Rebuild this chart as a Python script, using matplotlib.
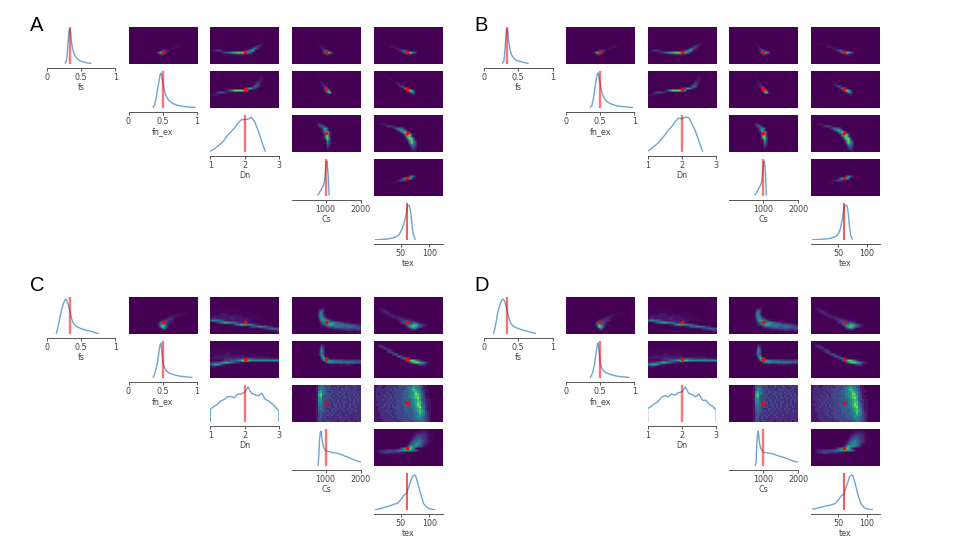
import numpy as np
import matplotlib
matplotlib.use("Agg")
import matplotlib.pyplot as plt
from matplotlib.colors import PowerNorm

names = ["fs", "fn_ex", "Dn", "Cs", "tex"]
truth = [0.333, 0.5, 2.0, 1000.0, 60.0]
limits = [(0, 1), (0, 1), (1, 3), (50, 2000), (2.5, 123.5)]
ticks = [[0, 0.5, 1], [0, 0.5, 1], [1, 2, 3], [1000, 2000], [50, 100]]
tick_labels = [["0", "0.5", "1"], ["0", "0.5", "1"], ["1", "2", "3"], ["1000", "2000"], ["50", "100"]]

# histograms (height relative to the peak)
fs_x_ab = [.27, .29, .30, .31, .32, .33, .34, .35, .36, .38, .40, .43, .47, .52, .58, .64]
fs_y_a = [.02, .10, .30, .60, .85, .97, 1, .85, .65, .42, .28, .18, .10, .06, .03, .01]
fs_y_b = [.02, .08, .27, .55, .82, .98, 1, .88, .66, .40, .26, .17, .10, .07, .04, .01]
fn_x_ab = [.36, .38, .40, .42, .44, .46, .47, .48, .50, .52, .54, .57, .60, .65, .72, .80, .90, .97]
fn_y_a = [.02, .08, .25, .48, .72, .95, 1, .95, .75, .52, .38, .26, .19, .12, .07, .04, .02, .01]
fn_y_b = [.02, .07, .23, .50, .76, .97, 1, .93, .72, .50, .36, .25, .18, .12, .07, .04, .02, .01]
dn_x_ab = [1.0, 1.1, 1.2, 1.3, 1.4, 1.5, 1.6, 1.7, 1.8, 1.9, 2.0, 2.1, 2.2, 2.3, 2.4, 2.5, 2.6]
dn_y_a = [.02, .07, .15, .23, .33, .47, .58, .68, .82, .92, .93, .94, 1, .85, .60, .30, .02]
dn_y_b = [.02, .08, .16, .25, .36, .48, .62, .72, .86, .97, .95, 1, .98, .80, .58, .30, .02]
cs_x_ab = [780, 820, 860, 900, 940, 980, 1000, 1020, 1040, 1060, 1080, 1100]
cs_y_a = [.03, .08, .15, .22, .30, .45, .75, .95, 1, .80, .55, .03]
cs_y_b = [.03, .09, .16, .24, .32, .45, .70, .90, 1, .85, .60, .03]
tex_x_ab = [5, 15, 25, 35, 42, 47, 51, 54, 57, 60, 62, 64, 66, 68, 70, 72, 75]
tex_y_a = [0, .01, .02, .05, .09, .15, .28, .40, .58, .80, .98, 1, .90, .70, .35, .15, .02]
tex_y_b = [0, .01, .02, .04, .07, .11, .20, .33, .58, .90, .98, 1, .96, .72, .35, .12, .02]

fs_x_cd = [.14, .16, .18, .20, .22, .24, .26, .28, .30, .32, .34, .36, .38, .40, .44, .50, .56, .62, .68, .75]
fs_y_c = [.02, .15, .35, .55, .72, .85, .95, 1, .92, .80, .62, .46, .34, .27, .20, .15, .11, .08, .05, .01]
fs_y_d = [.02, .16, .38, .60, .75, .88, .97, 1, .94, .82, .65, .48, .35, .27, .20, .15, .11, .08, .05, .01]
fn_x_cd = [.36, .38, .40, .42, .44, .46, .47, .48, .49, .50, .52, .55, .60, .66, .74, .82, .92]
fn_y_c = [.02, .10, .25, .42, .68, .95, 1, .90, .70, .45, .32, .20, .13, .09, .05, .03, .01]
fn_y_d = [.02, .09, .22, .40, .70, .96, 1, .88, .66, .42, .30, .20, .13, .09, .05, .03, .01]
dn_x_cd = [1.0, 1.0, 1.1, 1.2, 1.3, 1.4, 1.5, 1.6, 1.7, 1.8, 1.9, 2.0, 2.1, 2.2, 2.3, 2.4, 2.5, 2.6, 2.7, 2.8, 2.9, 3.0, 3.0]
dn_y_c = [0, .36, .44, .50, .60, .64, .72, .73, .69, .80, .80, .85, 1, .82, .78, .75, .82, .65, .60, .52, .42, .32, 0]
dn_y_d = [0, .38, .44, .52, .58, .70, .76, .72, .80, .77, .84, .86, 1, .82, .78, .72, .80, .62, .62, .50, .44, .34, 0]
cs_x_cd = [790, 810, 830, 850, 870, 890, 910, 950, 1000, 1050, 1100, 1200, 1300, 1400, 1500, 1600, 1700, 1800, 1900, 2000]
cs_y_c = [.02, .30, .75, .95, 1, .85, .70, .52, .44, .42, .41, .38, .37, .34, .30, .26, .22, .18, .14, .11]
cs_y_d = [.02, .10, .65, .90, 1, .82, .62, .48, .42, .38, .38, .36, .34, .30, .27, .24, .20, .16, .13, .10]
tex_x_cd = [5, 15, 25, 35, 45, 50, 55, 60, 65, 70, 73, 76, 80, 85, 90, 95, 100, 110]
tex_y_c = [0, .04, .09, .14, .20, .30, .42, .47, .72, .95, 1, .98, .75, .45, .18, .08, .03, 0]
tex_y_d = [.02, .05, .10, .13, .18, .28, .40, .46, .70, .95, 1, .98, .75, .42, .18, .07, .03, 0]

hist_a = [(fs_x_ab, fs_y_a), (fn_x_ab, fn_y_a), (dn_x_ab, dn_y_a), (cs_x_ab, cs_y_a), (tex_x_ab, tex_y_a)]
hist_b = [(fs_x_ab, fs_y_b), (fn_x_ab, fn_y_b), (dn_x_ab, dn_y_b), (cs_x_ab, cs_y_b), (tex_x_ab, tex_y_b)]
hist_c = [(fs_x_cd, fs_y_c), (fn_x_cd, fn_y_c), (dn_x_cd, dn_y_c), (cs_x_cd, cs_y_c), (tex_x_cd, tex_y_c)]
hist_d = [(fs_x_cd, fs_y_d), (fn_x_cd, fn_y_d), (dn_x_cd, dn_y_d), (cs_x_cd, cs_y_d), (tex_x_cd, tex_y_d)]

# heatmap cells on a 34 x 18 grid: (row, first col, digits 0-9)
# narrow posterior, panels A and B
narrow = {
    (0, 1): [(7, 27, "11"), (8, 24, "11"), (9, 22, "121"), (10, 20, "121"), (11, 15, "13432"), (12, 13, "158962"), (13, 14, "1231")],
    (0, 2): [(7, 25, "11"), (8, 24, "221"), (9, 22, "3431"), (10, 20, "3553"), (11, 0, "1234432"), (11, 16, "124678"),
             (12, 5, "1345678899998864"), (13, 10, "112222211")],
    (0, 3): [(7, 13, "1"), (8, 13, "11"), (9, 14, "2"), (10, 14, "13"), (11, 15, "364"), (12, 15, "369851"), (13, 16, "231")],
    (0, 4): [(7, 3, "111"), (8, 5, "111"), (9, 7, "1221"), (10, 10, "2221"), (11, 12, "24642"), (12, 14, "3689864"), (13, 16, "1221")],
    (1, 2): [(1, 25, "1"), (2, 24, "11"), (3, 24, "22"), (4, 23, "122"), (5, 23, "33"), (6, 22, "352"), (7, 21, "4642"),
             (8, 17, "3587431"), (9, 8, "24689999876"), (10, 2, "13454321"), (11, 0, "12221")],
    (1, 3): [(2, 13, "1"), (3, 13, "1"), (4, 14, "1"), (5, 14, "2"), (6, 14, "22"), (7, 15, "43"), (8, 15, "175"),
             (9, 16, "695"), (10, 17, "593"), (11, 18, "1")],
    (1, 4): [(2, 5, "11"), (3, 7, "11"), (4, 8, "11"), (5, 10, "12"), (6, 11, "23"), (7, 12, "254"), (8, 14, "3762"),
             (9, 15, "17985"), (10, 17, "3762"), (11, 19, "21")],
    (2, 3): [(4, 12, "243"), (5, 13, "3552"), (6, 14, "2675"), (7, 15, "584"), (8, 15, "3794"), (9, 15, "1693"), (10, 16, "794"),
             (11, 16, "595"), (12, 17, "74"), (13, 17, "64"), (14, 17, "43"), (15, 17, "32"), (16, 17, "21"), (17, 17, "1")],
    (2, 4): [(4, 2, "12221"), (5, 5, "1344321"), (6, 9, "246653"), (7, 11, "36875"), (8, 13, "47983"), (9, 14, "36995"),
             (10, 15, "4895"), (11, 16, "6995"), (12, 16, "27973"), (13, 17, "6975"), (14, 17, "2664"), (15, 18, "453"),
             (16, 18, "242"), (17, 19, "12")],
    (3, 4): [(7, 20, "1"), (8, 17, "4752"), (9, 13, "258986"), (10, 10, "123443"), (11, 7, "1112"), (12, 4, "11")],
}

# wide posterior, panels C and D
wide = {
    (0, 1): [(7, 25, "1111"), (8, 21, "11211111"), (9, 19, "1222111"), (10, 17, "12332111"), (11, 15, "13343321"),
             (12, 14, "156443"), (13, 14, "2687421"), (14, 15, "59851"), (15, 16, "361")],
    (0, 2): [(5, 2, "1111111"), (6, 0, "111111111111111"), (7, 0, "11111111111111111111"), (8, 0, "1111122221112111111111"),
             (9, 0, "122222222222222211111111"), (10, 0, "23322222223322222221111111"),
             (11, 0, "5776654322222222222211111111"), (12, 2, "13467887766433222111"), (13, 10, "124678887765432"),
             (14, 19, "2455677664331"), (15, 26, "23456665"), (16, 31, "123")],
    (0, 3): [(5, 14, "12"), (6, 13, "354"), (7, 13, "473"), (8, 13, "5731"), (9, 13, "57521"), (10, 13, "477431"),
             (11, 13, "2778653211"), (12, 13, "14676677654432211"), (13, 14, "34678876666655544332"),
             (14, 16, "245556665556665544"), (15, 18, "1233334444444454"), (16, 24, "1112221122")],
    (0, 4): [(5, 2, "121"), (6, 2, "12321"), (7, 3, "123321"), (8, 5, "1232211"), (9, 7, "12322211"), (10, 9, "123332211"),
             (11, 12, "2344332211"), (12, 13, "3445445431"), (13, 15, "456788754321"), (14, 16, "3789875421"), (15, 17, "24552")],
    (1, 2): [(3, 4, "111111111"), (4, 2, "111111111111111"), (5, 0, "1111111111111111111"), (6, 0, "1111111222111111111111111"),
             (7, 0, "11222222222222222111111111111"), (8, 0, "2222222333333333444444333333322221"),
             (9, 6, "2333555678998877777777777777"), (10, 0, "33445678876543222111"), (11, 0, "6788753211"), (12, 0, "1221")],
    (1, 3): [(1, 14, "2"), (2, 14, "43"), (3, 13, "163"), (4, 13, "274"), (5, 13, "274"), (6, 13, "3641"), (7, 14, "671"),
             (8, 14, "3875"), (9, 15, "5877665555444444444"), (10, 16, "25776666666666655555"), (11, 19, "111112122211")],
    (1, 4): [(1, 1, "11"), (2, 2, "343"), (3, 4, "342"), (4, 6, "343"), (5, 7, "443"), (6, 9, "4541"), (7, 11, "4642"),
             (8, 13, "35653"), (9, 15, "367997642"), (10, 16, "136899876421"), (11, 20, "1244421")],
    (2, 3): [(0, 12, "1344333222322232223222"), (1, 12, "1455433232323233222322"), (2, 12, "1465433323223332323222"),
             (3, 12, "1675432332332323232322"), (4, 12, "1785433323323322323232"), (5, 12, "1784333232332323223232"),
             (6, 12, "1674333323232332322323"), (7, 12, "1664332332323222323232"), (8, 12, "1564333232322332223232"),
             (9, 12, "1554323233232322323222"), (10, 12, "1454333223232322322322"), (11, 12, "1454322332323223232222"),
             (12, 12, "1444332323222322322322"), (13, 12, "1343323232232222322222"), (14, 12, "1343232322322232222222"),
             (15, 12, "1342323222232222222222"), (16, 12, "1332322222222222212222"), (17, 12, "1332232222122212222122")],
    (2, 4): [(0, 0, "1122112222223333445655431100"), (1, 0, "1222122222323333456765431100"), (2, 0, "1222222232333334457876532110"),
             (3, 0, "1222223223233334456787642110"), (4, 0, "1212222322333344456798642100"), (5, 0, "1222232232333334456788743110"),
             (6, 0, "1222223232333344456789743110"), (7, 0, "1222322323233334445678743211"), (8, 0, "1122223232333343445678853211"),
             (9, 0, "1222232323233344445679854211"), (10, 0, "1122322323333334445578964211"), (11, 0, "1122222322333334444567865211"),
             (12, 0, "1122223232233334444567875311"), (13, 0, "1112222322333333444556865321"), (14, 0, "1112222232233334344456765321"),
             (15, 0, "1112222223233333344456654321"), (16, 0, "1111222222223333334445554321"), (17, 0, "1111122222222233333344544321")],
    (3, 4): [(0, 21, "11111"), (1, 20, "11222211"), (2, 19, "1233333211"), (3, 19, "23444332111"), (4, 18, "134554332111"),
             (5, 17, "1245665432111"), (6, 17, "245676543211"), (7, 16, "13567765321"), (8, 15, "1368776542"), (9, 11, "12468998631"),
             (10, 1, "1233344445566778776531"), (11, 2, "13344443333221"), (12, 5, "11111")],
}


def cells(rows):
    grid = np.zeros((18, 34))
    for row, col, digits in rows:
        for k, d in enumerate(digits):
            if col + k < 34:
                grid[row, col + k] = int(d)
    return grid


W, H = 960, 540
plt.rcParams["font.family"] = "DejaVu Sans"
fig = plt.figure(figsize=(W / 100, H / 100), dpi=100)

col_left = [46.7, 128.5, 210.3, 292.1, 374]
row_top = [27, 71, 115, 159, 203]
ax_w, ax_h = 68.6, 36.8


def new_ax(x, y):
    return fig.add_axes([x / W, 1 - (y + ax_h) / H, ax_w / W, ax_h / H])


def panel(dx, dy, hists, maps, letter, label_x, label_y):
    fig.text(label_x / W, 1 - label_y / H, letter, fontsize=14.5, family="Liberation Sans", va="baseline", color="black")
    for i in range(5):
        # diagonal
        ax = new_ax(col_left[i] + dx, row_top[i] + dy)
        hx, hy = hists[i]
        ax.plot(hx, hy, color="tab:blue", lw=1.0, alpha=0.65)
        ax.axvline(truth[i], color="red", lw=1.1 if i == 4 else 1.7, alpha=0.85 if i == 4 else 0.55)
        ax.set_xlim(limits[i])
        ax.set_ylim(0, 1.06)
        ax.set_yticks([])
        ax.set_xticks(ticks[i])
        ax.set_xticklabels(tick_labels[i])
        ax.tick_params(axis="x", labelsize=5.8, length=2.2, width=0.7, pad=1.5, color="#555555", labelcolor="#444444")
        ax.set_xlabel(names[i], fontsize=5.8, color="#444444", labelpad=0.8)
        for side in ["left", "top", "right"]:
            ax.spines[side].set_visible(False)
        ax.spines["bottom"].set_position(("outward", 3))
        ax.spines["bottom"].set_color("#555555")
        ax.spines["bottom"].set_linewidth(0.7)
        ax.patch.set_alpha(0)
        # upper triangle
        for j in range(i + 1, 5):
            ax = new_ax(col_left[j] + dx, row_top[i] + dy)
            noisy = maps is wide and i == 2
            ax.imshow(cells(maps[(i, j)]), cmap="viridis", norm=PowerNorm(1.25 if noisy else 1.7, vmin=0, vmax=10.5),
                      aspect="auto", interpolation="nearest" if noisy else "bilinear",
                      extent=[limits[j][0], limits[j][1], limits[i][0], limits[i][1]], origin="upper")
            ax.scatter([truth[j]], [truth[i]], s=7, color="red", linewidths=0, zorder=3)
            ax.set_xlim(limits[j])
            ax.set_ylim(limits[i])
            ax.axis("off")


panel(0, 0, hist_a, narrow, "A", 30, 31.3)
panel(437.3, 0, hist_b, narrow, "B", 474.7, 31.3)
panel(0, 270, hist_c, wide, "C", 30, 290.7)
panel(437.3, 270, hist_d, wide, "D", 474.7, 290.7)

fig.savefig("out.png", dpi=100)
